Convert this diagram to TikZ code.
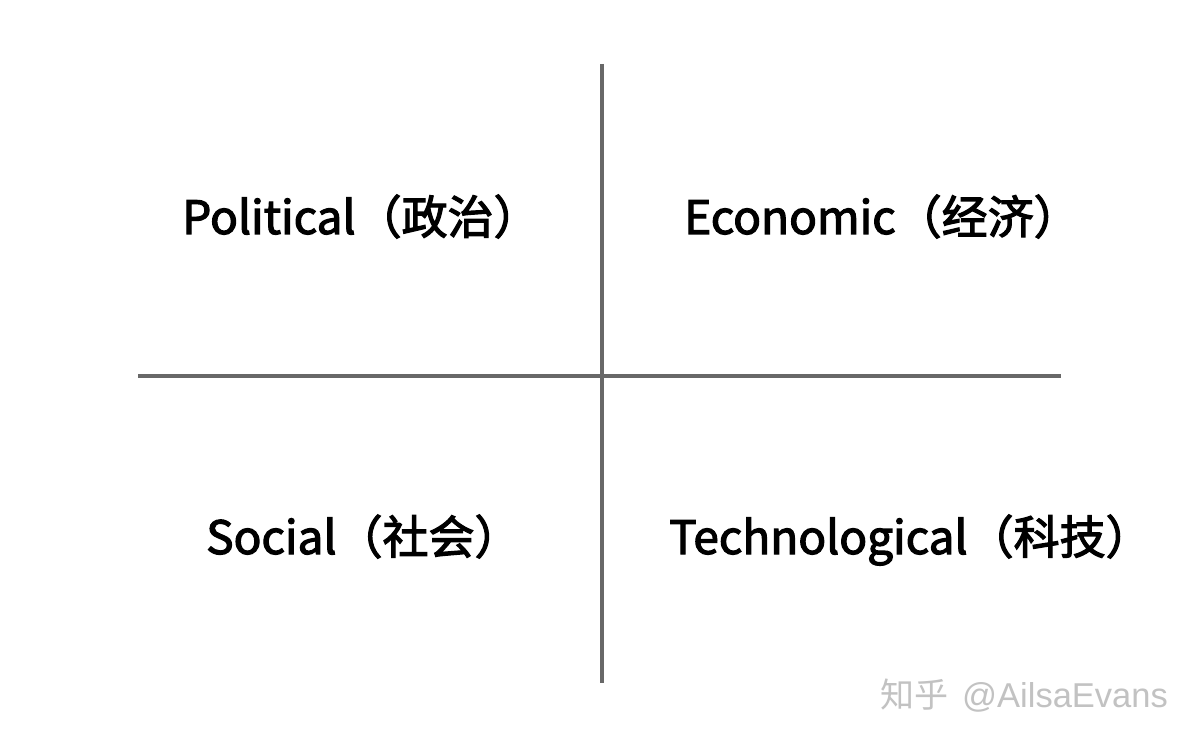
\documentclass[tikz,border=0pt]{standalone}
\usepackage{fontspec}
\setmainfont{Noto Sans CJK SC}
\newfontfamily\cjk[FakeBold=2.5]{Noto Sans CJK SC}
\newfontfamily\wmcjk{Noto Sans CJK SC}
\newfontfamily\wmlat{Liberation Sans}
\definecolor{linegray}{HTML}{686868}
\definecolor{markgray}{HTML}{C2C2C2}
\begin{document}
\begin{tikzpicture}[x=1pt,y=-1pt,
  axis/.style={draw=linegray,line width=4pt},
  quadlabel/.style={font=\cjk\fontsize{46}{50}\selectfont,anchor=base west,inner sep=0pt,text=black},
  watermark/.style={font=\wmcjk\fontsize{34}{36}\selectfont,anchor=base west,inner sep=0pt,text=markgray}]
\useasboundingbox[fill=white] (0,0) rectangle (1200,746);
\coordinate (vt) at (602,64);
\coordinate (vb) at (602,683);
\coordinate (hl) at (138,375.5);
\coordinate (hr) at (1061,375.5);
\draw[axis] (vt) -- (vb);
\draw[axis] (hl) -- (hr);
\node[quadlabel] (p) at (182,234) {Political（政治）};
\node[quadlabel] (e) at (684,234) {Economic（经济）};
\node[quadlabel] (s) at (206,554) {Social（社会）};
\node[quadlabel] (t) at (669,554) {Technological（科技）};
\node[watermark] (w) at (880,707) {知乎\hspace{14pt}{\wmlat\fontsize{34.5}{36}\selectfont @AilsaEvans}};
\end{tikzpicture}
\end{document}
